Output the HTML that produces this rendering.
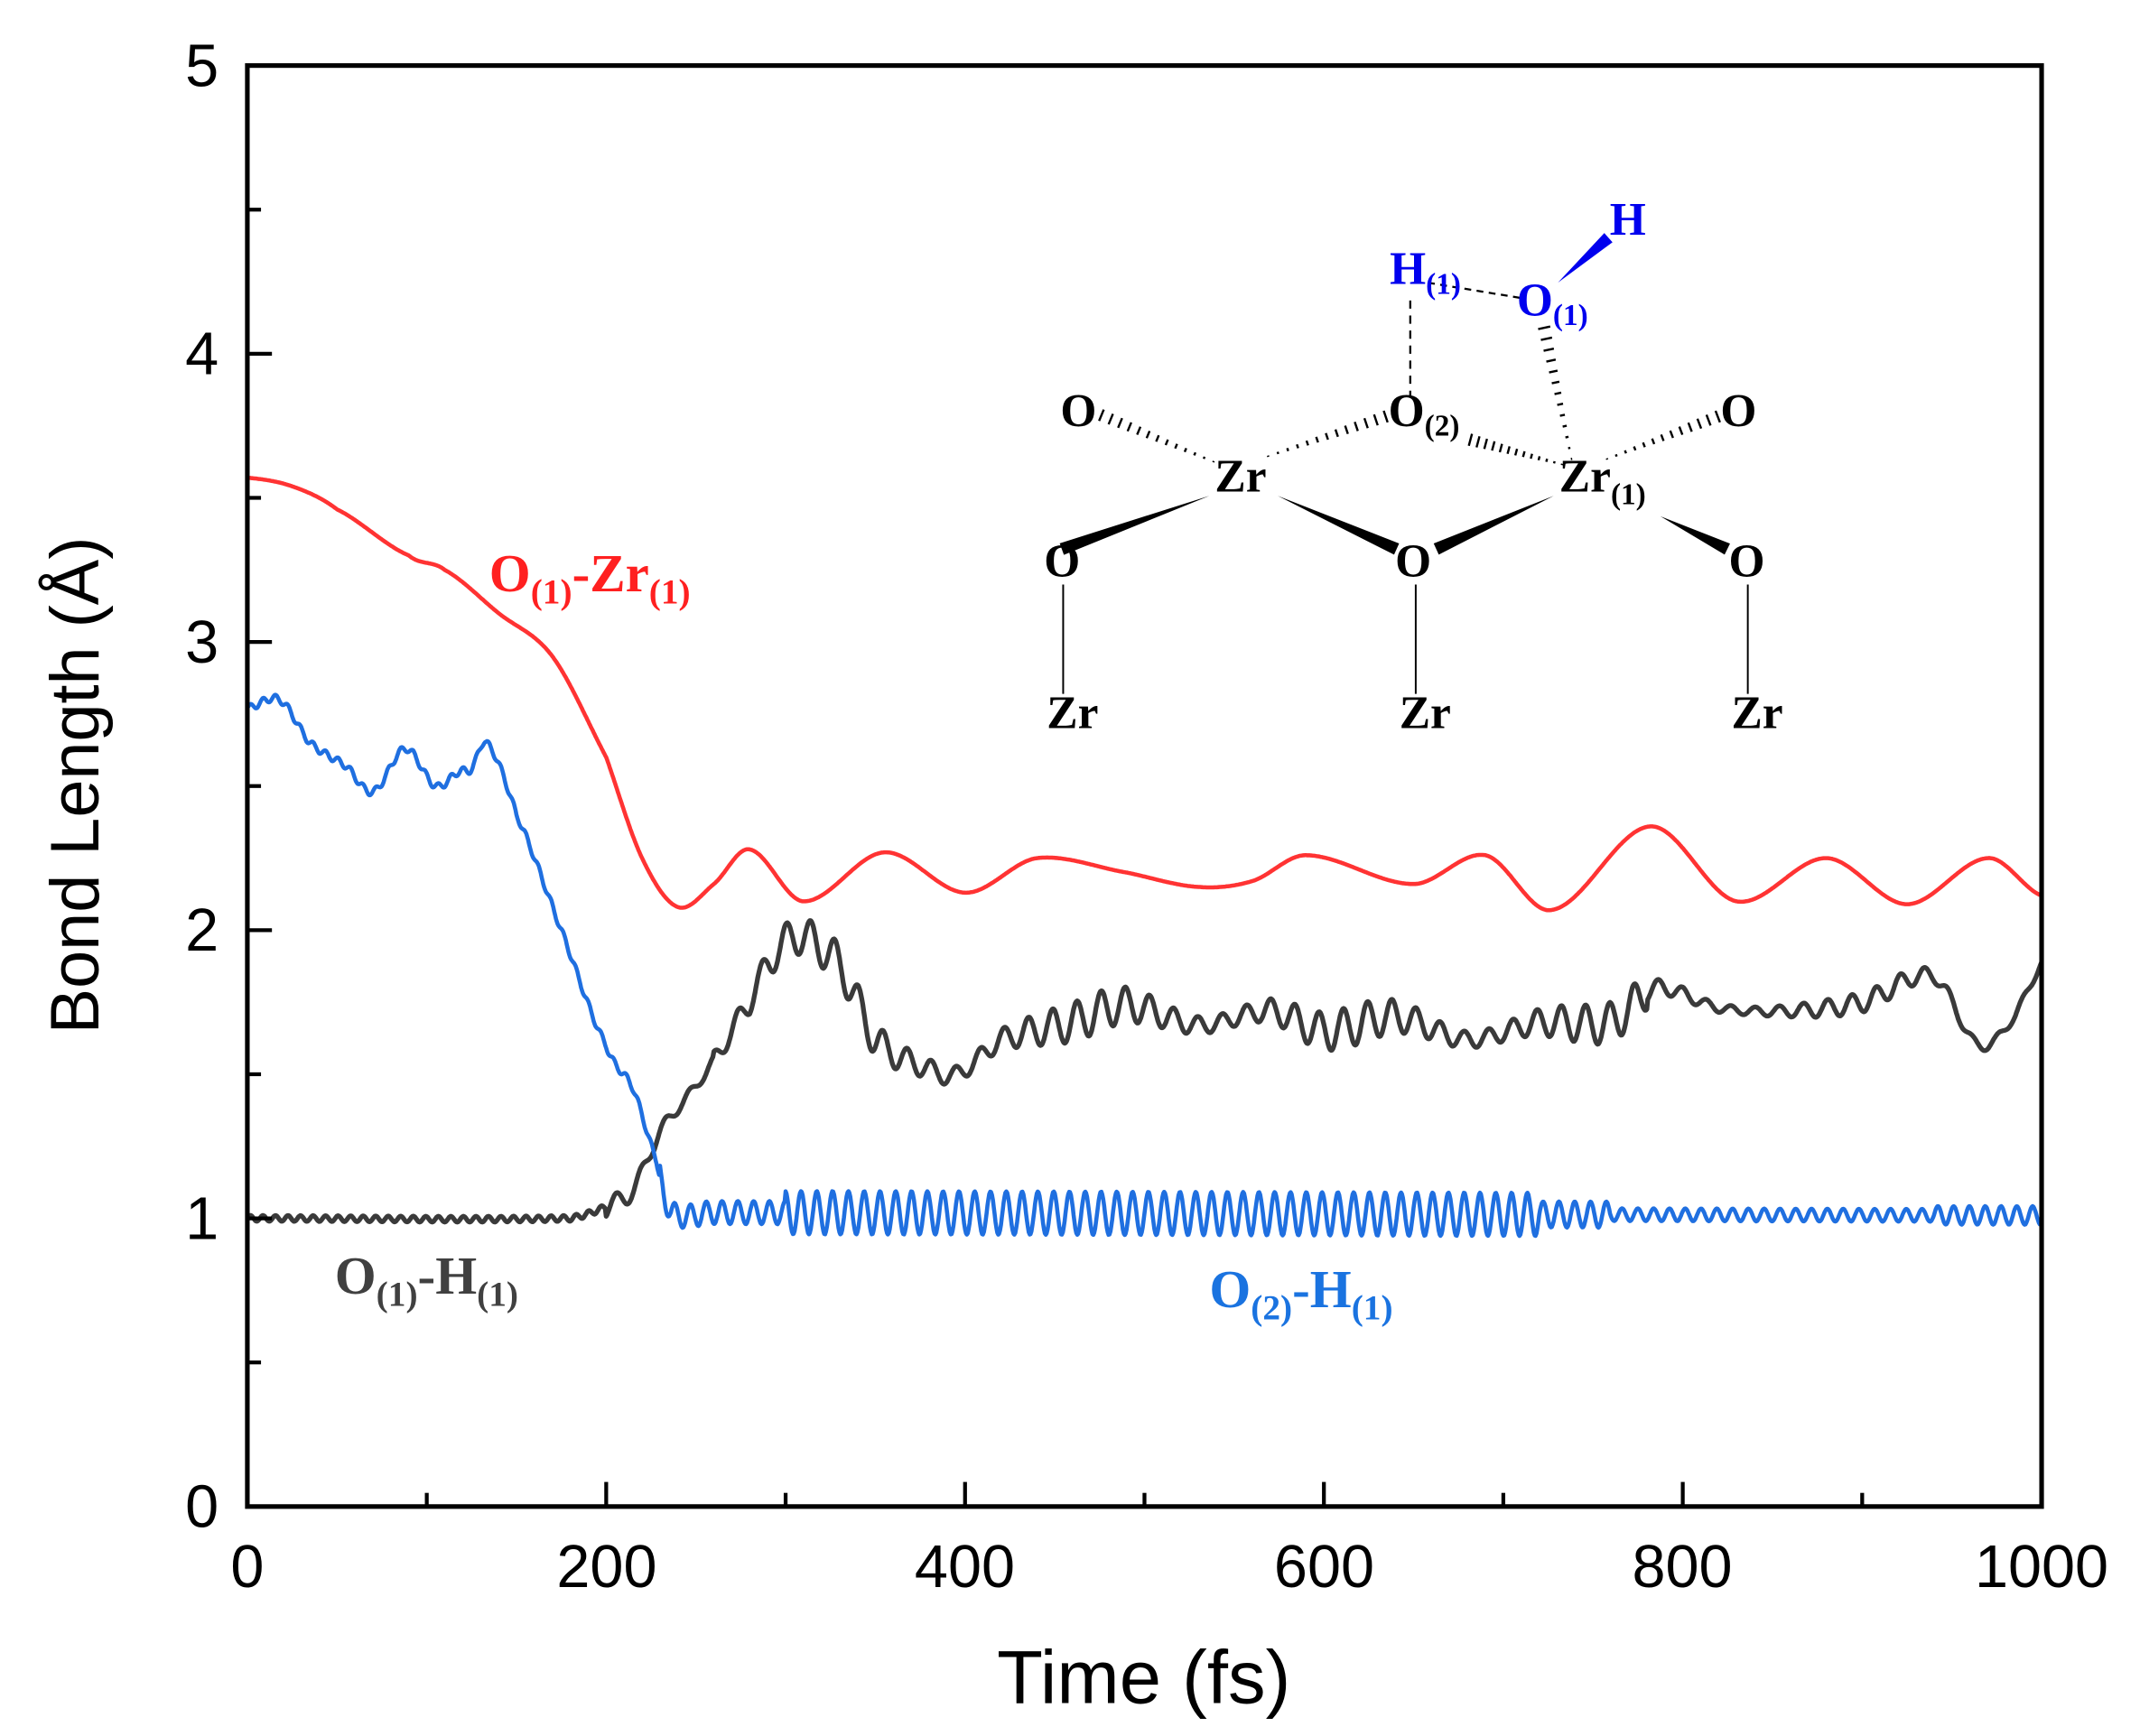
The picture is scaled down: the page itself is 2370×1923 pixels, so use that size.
<!DOCTYPE html>
<html><head><meta charset="utf-8"><style>html,body{margin:0;padding:0;background:#fff}svg{display:block}</style></head>
<body>
<svg id="s" width="2370" height="1923" viewBox="0 0 1566 1271" preserveAspectRatio="none" xmlns="http://www.w3.org/2000/svg">
<g id="plot"></g>
<rect x="181" y="48" width="1313" height="1055" fill="none" stroke="#000" stroke-width="3.4"/>
<g id="ticks" stroke="#000" stroke-width="2.8"></g>
<g font-family="Liberation Sans, sans-serif" font-size="44" fill="#000">
<text x="160" y="1118" text-anchor="end">0</text>
<text x="160" y="907" text-anchor="end">1</text>
<text x="160" y="696" text-anchor="end">2</text>
<text x="160" y="485" text-anchor="end">3</text>
<text x="160" y="274" text-anchor="end">4</text>
<text x="160" y="63" text-anchor="end">5</text>
<text x="181" y="1162" text-anchor="middle">0</text>
<text x="444" y="1162" text-anchor="middle">200</text>
<text x="706" y="1162" text-anchor="middle">400</text>
<text x="969" y="1162" text-anchor="middle">600</text>
<text x="1231" y="1162" text-anchor="middle">800</text>
<text x="1494" y="1162" text-anchor="middle">1000</text>
<text x="837" y="1247" text-anchor="middle" font-size="55">Time (fs)</text>
<text transform="translate(72,575) rotate(-90)" text-anchor="middle" font-size="50">Bond Length (Å)</text>
</g>
<g font-family="Liberation Serif, serif" font-weight="bold" font-size="39">
<text x="358" y="433" fill="#ff2020">O<tspan font-size="26" dy="9">(1)</tspan><tspan dy="-9">-Zr</tspan><tspan font-size="26" dy="9">(1)</tspan></text>
<text x="245" y="947" fill="#404040">O<tspan font-size="26" dy="9">(1)</tspan><tspan dy="-9">-H</tspan><tspan font-size="26" dy="9">(1)</tspan></text>
<text x="885" y="957" fill="#1a73e0">O<tspan font-size="26" dy="9">(2)</tspan><tspan dy="-9">-H</tspan><tspan font-size="26" dy="9">(1)</tspan></text>
</g>
<g id="mol"></g>
<g font-family="Liberation Serif, serif" font-weight="bold" font-size="34" fill="#000">
<text x="1178" y="172" fill="#0000ee">H</text>
<text x="1017" y="208" fill="#0000ee">H<tspan font-size="22" dy="7">(1)</tspan></text>
<text x="1110" y="231" fill="#0000ee">O<tspan font-size="22" dy="7">(1)</tspan></text>
<text x="776" y="312">O</text>
<text x="1016" y="312">O<tspan font-size="22" dy="7">(2)</tspan></text>
<text x="1259" y="312">O</text>
<text x="889" y="360">Zr</text>
<text x="1141" y="360">Zr<tspan font-size="22" dy="9">(1)</tspan></text>
<text x="764" y="422">O</text>
<text x="1021" y="422">O</text>
<text x="1265" y="422">O</text>
<text x="766" y="533">Zr</text>
<text x="1024" y="533">Zr</text>
<text x="1267" y="533">Zr</text>
</g>
</svg>
<script>
const X=t=>181+t*1.313, Y=v=>1103-v*211;
const NS="http://www.w3.org/2000/svg";
function el(p,tag,a){const e=document.createElementNS(NS,tag);for(const k in a)e.setAttribute(k,a[k]);document.getElementById(p).appendChild(e);return e;}
for(let t=0;t<=1000;t+=100){const L=t%200?10:18;el('ticks','line',{x1:X(t),y1:1103,x2:X(t),y2:1103-L});}
for(let v=0;v<=5;v+=0.5){const L=(v*2)%2?10:18;el('ticks','line',{x1:181,y1:Y(v),x2:181+L,y2:Y(v)});}
function interp(pts){return t=>{let i=0;while(i<pts.length-2&&pts[i+1][0]<t)i++;
 const p0=pts[Math.max(i-1,0)],p1=pts[i],p2=pts[i+1],p3=pts[Math.min(i+2,pts.length-1)];
 const u=(t-p1[0])/(p2[0]-p1[0]);const m1=(p2[1]-p0[1])/2,m2=(p3[1]-p1[1])/2;
 const h00=2*u*u*u-3*u*u+1,h10=u*u*u-2*u*u+u,h01=-2*u*u*u+3*u*u,h11=u*u*u-u*u;
 return h00*p1[1]+h10*m1+h01*p2[1]+h11*m2;};}
function path(f,col,w){let d='';for(let t=0;t<=1000;t+=0.5){d+=(t?'L':'M')+X(t).toFixed(1)+' '+Y(f(t)).toFixed(1);}
 el('plot','path',{d:d,fill:'none',stroke:col,'stroke-width':w,'stroke-linejoin':'round'});}
const red=interp([[0,3.57],[25,3.54],[50,3.46],[90,3.3],[110,3.25],[140,3.1],[170,2.95],[200,2.6],[220,2.25],[240,2.08],[260,2.16],[280,2.28],[310,2.1],[355,2.27],[400,2.13],[440,2.25],[490,2.2],[530,2.15],[560,2.17],[590,2.26],[650,2.16],[690,2.26],[727,2.07],[782,2.36],[830,2.1],[880,2.25],[925,2.09],[970,2.25],[1000,2.12]]);
const blueB=interp([[0,2.77],[18,2.8],[35,2.65],[55,2.57],[70,2.48],[88,2.63],[105,2.5],[118,2.55],[125,2.56],[133,2.65],[150,2.4],[175,2.0],[200,1.6],[215,1.45],[228,1.2],[236,1.02],[260,1.02],[1000,1.01]]);
const blue=t=>{let v=blueB(t);if(t<230)v+=0.012*Math.sin(t*0.9);else{let a=t<300?0.04:t<720?0.075:t<760?0.045:0.022;if(t>940)a=0.032;v+=a*Math.sin(2*Math.PI*(t-236)/8.8);}return v;};
const blkB=interp([[0,1.0],[180,1.0],[200,1.04],[215,1.1],[230,1.3],[245,1.42],[260,1.55],[280,1.75],[290,1.88],[305,1.98],[330,1.88],[350,1.62],[380,1.52],[395,1.5],[420,1.62],[460,1.68],[490,1.74],[530,1.67],[570,1.72],[600,1.65],[640,1.7],[680,1.62],[720,1.68],[760,1.68],[785,1.8],[820,1.73],[860,1.72],[900,1.75],[940,1.84],[965,1.6],[985,1.7],[1000,1.88]]);
const blk=t=>{let v=blkB(t);if(t<200)v+=0.01*Math.sin(t*0.9);else{let a=t<260?0.04:t>780?0.035:0.07;v+=a*Math.sin(2*Math.PI*t/13.5)*(0.7+0.3*Math.sin(t/23));}return v;};
path(red,'#ff3333',3);path(blk,'#3a3a3a',3.5);path(blue,'#1f6fe0',3);
function line(a,b,c,d,w,col,da){const e=el('mol','line',{x1:a,y1:b,x2:c,y2:d,stroke:col||'#000','stroke-width':w||1.5});if(da)e.setAttribute('stroke-dasharray',da);}
function wedge(a,b,c,d,w,col){const dx=c-a,dy=d-b,L=Math.hypot(dx,dy),nx=-dy/L*w/2,ny=dx/L*w/2;
 el('mol','polygon',{points:`${a},${b} ${c+nx},${d+ny} ${c-nx},${d-ny}`,fill:col||'#000'});}
function hash(a,b,c,d,w){const n=12;for(let i=0;i<=n;i++){const u=i/n,x=a+(c-a)*u,y=b+(d-b)*u,dx=c-a,dy=d-b,L=Math.hypot(dx,dy),h=(1+u*w)/2;
 line(x-dy/L*h,y+dx/L*h,x+dy/L*h,y-dx/L*h,1.6);}}
wedge(1140,207,1177,174,9,'#0000ee');
line(1045,207,1112,218,1.5,'#000','5 4');
line(1032,220,1032,290,1.5,'#000','6 5');
hash(1150,336,1130,240,8);
hash(888,338,806,304,8);hash(928,334,1014,305,8);hash(1143,340,1076,322,8);hash(1176,336,1257,305,8);
wedge(885,363,777,402,9);wedge(935,363,1022,402,9);wedge(1137,363,1051,402,9);wedge(1215,378,1264,402,9);
line(778,428,778,508,1.3);line(1036,428,1036,508,1.3);line(1279,428,1279,508,1.3);
</script>
</body></html>
